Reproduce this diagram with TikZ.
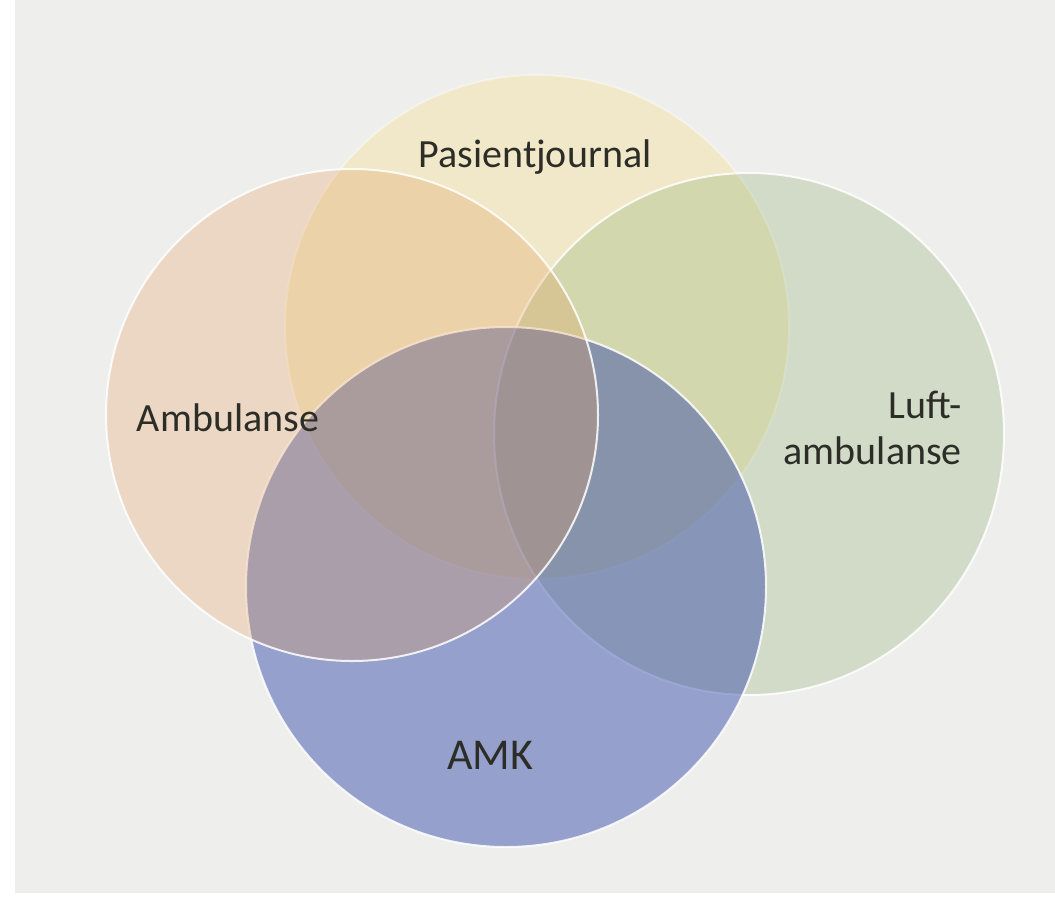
\documentclass[tikz,border=0pt]{standalone}
\usepackage{fontspec}
\setmainfont{Carlito}
\usetikzlibrary{shapes.geometric}
\definecolor{paper}{RGB}{238,238,236}
\definecolor{pjcol}{RGB}{243,223,146}
\definecolor{luftcol}{RGB}{145,178,116}
\definecolor{amkcol}{RGB}{46,68,168}
\definecolor{ambcol}{RGB}{227,153,85}
\definecolor{txtcol}{RGB}{45,45,40}

\begin{document}
\begin{tikzpicture}[x=1pt,y=-1pt,
  set/.style={circle,draw=white,draw opacity=0.85,line width=2pt,inner sep=0pt},
  lbl/.style={text=txtcol,font=\fontsize{40}{46}\selectfont,inner sep=0pt}]
  \useasboundingbox (0,0) rectangle (1055,910);
  \fill[white] (0,0) rectangle (1055,910);
  \fill[paper] (15,0) rectangle (1055,893);
  % the four sets, lowest first
  \node[set,draw opacity=0.4,fill=pjcol,fill opacity=0.4,minimum size=504pt] (pj) at (537,327) {};
  \node[set,ellipse,fill=luftcol,fill opacity=0.3,minimum width=510pt,minimum height=522pt] (luft) at (749,434) {};
  \node[set,fill=amkcol,fill opacity=0.46,minimum size=520pt] (amk) at (506,587) {};
  \node[set,fill=ambcol,fill opacity=0.27,minimum size=492pt] (amb) at (352,415) {};
  % labels
  \node[lbl] (pjtxt) at (535,157) {Pasientjournal};
  \node[lbl] (ambtxt) at (228,418) {Ambulanse};
  \node[lbl,align=right,anchor=east] (lufttxt) at (962,428) {Luft-\\ambulanse};
  \node[lbl,font=\fontsize{44}{50}\selectfont] (amktxt) at (490,755) {AMK};
\end{tikzpicture}
\end{document}
